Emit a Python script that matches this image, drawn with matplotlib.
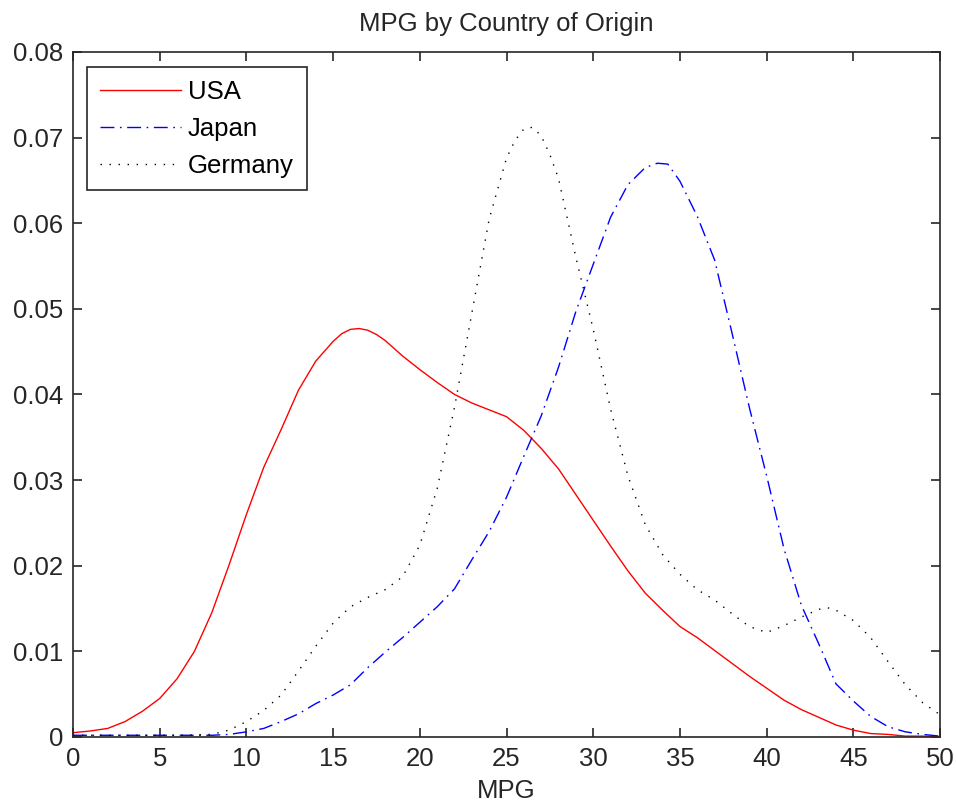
import matplotlib
matplotlib.use("Agg")
import matplotlib.pyplot as plt

# values (density estimates of MPG)
usa_x = [0, 1, 2, 3, 4, 5, 6, 7, 8, 9, 10, 11, 12, 13, 14, 15, 15.5, 16, 16.5,
         17, 17.5, 18, 18.5, 19, 20, 21, 22, 23, 24, 25, 26, 27, 28, 29, 30, 31,
         32, 33, 34, 35, 36, 37, 38, 39, 40, 41, 42, 43, 44, 45, 46, 47, 48, 49, 50]
usa_y = [0.0005, 0.0007, 0.0010, 0.0018, 0.0030, 0.0045, 0.0068, 0.0100, 0.0145,
         0.0201, 0.0260, 0.0315, 0.0359, 0.0405, 0.0439, 0.0462, 0.0471, 0.0476,
         0.0477, 0.0475, 0.0470, 0.0463, 0.0454, 0.0445, 0.0429, 0.0414, 0.0400,
         0.0390, 0.0382, 0.0374, 0.0358, 0.0337, 0.0313, 0.0283, 0.0253, 0.0223,
         0.0194, 0.0168, 0.0148, 0.0129, 0.0116, 0.0101, 0.0086, 0.0071, 0.0057,
         0.0043, 0.0032, 0.0023, 0.0014, 0.0008, 0.0004, 0.0003, 0.0001, 0.0001,
         0.0]

japan_x = [0, 2, 4, 6, 8, 9, 10, 11, 12, 13, 14, 15, 16, 17, 18, 19, 20, 21, 22,
           23, 24, 25, 26, 27, 28, 29, 30, 31, 32, 33, 33.7, 34.3, 35, 36, 37,
           38, 39, 40, 41, 42, 43, 44, 45, 46, 47, 48, 49, 50]
japan_y = [0.0002, 0.0002, 0.0002, 0.0002, 0.0002, 0.0003, 0.0006, 0.0010, 0.0018,
           0.0027, 0.0039, 0.0049, 0.0061, 0.0081, 0.0099, 0.0116, 0.0134, 0.0152,
           0.0173, 0.0207, 0.0240, 0.0280, 0.0328, 0.0375, 0.0432, 0.0497, 0.0552,
           0.0607, 0.0645, 0.0665, 0.0670, 0.0669, 0.0649, 0.0608, 0.0557, 0.0472,
           0.0385, 0.0305, 0.0220, 0.0154, 0.0109, 0.0062, 0.0042, 0.0024, 0.0012,
           0.0006, 0.0003, 0.0001]

germany_x = [0, 2, 4, 6, 8, 9, 10, 11, 12, 13, 14, 15, 16, 17, 18, 19, 20, 21,
             22, 23, 24, 25, 25.5, 26, 26.5, 27, 27.5, 28, 29, 30, 31, 32, 33, 34,
             35, 36, 37, 38, 39, 40, 41, 42, 43, 43.5, 44, 45, 46, 47, 48, 49, 50]
germany_y = [0.0002, 0.0002, 0.0002, 0.0002, 0.0003, 0.0008, 0.0018, 0.0031,
             0.0049, 0.0077, 0.0106, 0.0133, 0.0152, 0.0163, 0.0172, 0.0187,
             0.0224, 0.0290, 0.0385, 0.0495, 0.0605, 0.0676, 0.0697, 0.0710,
             0.0712, 0.0702, 0.0680, 0.0652, 0.0560, 0.0476, 0.0383, 0.0305,
             0.0248, 0.0213, 0.0190, 0.0172, 0.0160, 0.0144, 0.0129, 0.0122,
             0.0130, 0.0140, 0.0149, 0.0151, 0.0148, 0.0136, 0.0116, 0.0088,
             0.0061, 0.0040, 0.0026]

x_ticks = [0, 5, 10, 15, 20, 25, 30, 35, 40, 45, 50]
y_ticks = [0, 0.01, 0.02, 0.03, 0.04, 0.05, 0.06, 0.07, 0.08]
y_labels = ["0", "0.01", "0.02", "0.03", "0.04", "0.05", "0.06", "0.07", "0.08"]

plt.rcParams['font.family'] = ['Liberation Sans', 'DejaVu Sans']
plt.rcParams['font.size'] = 18.5

fig = plt.figure(figsize=(9.56, 8.05), dpi=100)
ax = fig.add_axes([0.0764, 0.0845, 0.9069, 0.851])

ax.plot(usa_x, usa_y, color='#ff0000', lw=1.0, label='USA')
ax.plot(japan_x, japan_y, color='#0000ff', lw=1.0, dashes=(10, 4, 1.2, 4),
        label='Japan')
ax.plot(germany_x, germany_y, color='black', lw=1.0, dashes=(1, 5.5),
        label='Germany')

ax.set_xlim(0, 50)
ax.set_ylim(0, 0.08)
ax.set_xticks(x_ticks)
ax.set_yticks(y_ticks)
ax.set_yticklabels(y_labels)
ax.tick_params(direction='in', length=6.5, width=1.2, top=True, right=True,
               colors='#262626', labelcolor='#262626', pad=7)
for s in ax.spines.values():
    s.set_linewidth(1.2)
    s.set_color('#262626')

ax.set_title('MPG by Country of Origin', fontsize=18.5, pad=15, color='#262626')
ax.set_xlabel('MPG', labelpad=6, color='#262626')

leg = ax.legend(loc='upper left', bbox_to_anchor=(0.016, 0.978), fancybox=False,
                framealpha=1, edgecolor='#262626', handlelength=3.15,
                handletextpad=0.28, borderpad=0.5, labelspacing=0.5,
                borderaxespad=0)
leg.get_frame().set_linewidth(1.2)

fig.savefig('out.png', dpi=100)
